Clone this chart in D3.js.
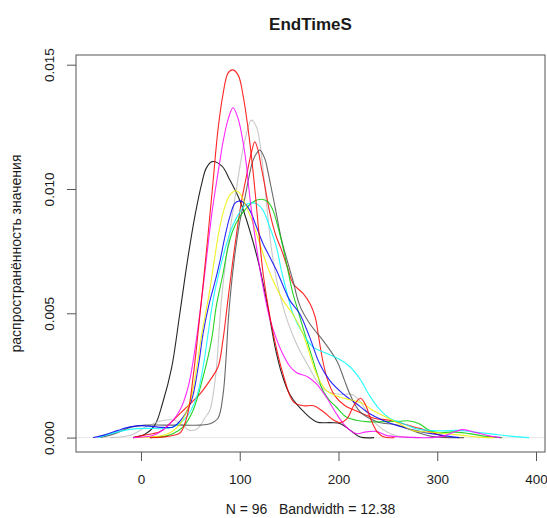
<!DOCTYPE html>
<html>
<head>
<meta charset="utf-8">
<script src="https://cdn.jsdelivr.net/npm/d3@7"></script>
<style>
  body { margin: 0; background: #fff; }
  text { font-family: "Liberation Sans", Arial, Helvetica, sans-serif; fill: #1a1a1a; }
</style>
</head>
<body>
<div id="chart"></div>
<script>
// density estimates: [value, density]
const blackCurve = [[-8,0],[4,0.00013],[14,0.0005],[22,0.0014],[31,0.0028],[39,0.0049],[47,0.0071],[55,0.009],[62,0.0103],[66,0.01083],[72,0.0111],[82,0.01092],[90,0.01036],[100,0.00955],[110,0.00835],[120,0.00687],[129,0.00512],[136,0.0036],[143,0.00251],[151,0.00171],[165,0.00103],[178,0.00063],[192,0.0006],[202,0.00056],[212,0.00029],[222,0.00002],[236,0]]
const redTall = [[9,0],[24,0.00003],[34,0.0001],[40,0.0002],[47,0.0009],[53,0.0025],[58,0.0043],[63,0.0062],[68,0.0082],[73,0.0103],[78,0.0124],[83,0.0138],[88,0.01465],[92.6,0.01479],[98.3,0.01459],[103.3,0.01378],[108.4,0.01244],[112.8,0.01096],[116,0.0097],[119.5,0.0082],[124,0.0065],[134,0.00416],[144.1,0.00252],[154.3,0.00144],[164.5,0.00128],[174.7,0.00128],[185,0.00103],[195.2,0.0007],[201.9,0.0006],[208.7,0.00076],[215.6,0.0013],[222.3,0.00158],[227.5,0.0013],[232.5,0.00076],[239.3,0.00022],[246.2,0.00002],[256.4,0]]
const magentaCurve = [[-8,0],[12.4,0.00009],[26,0.00043],[39.4,0.0011],[47.8,0.00204],[54.5,0.00351],[61.3,0.00553],[65.2,0.00682],[68.7,0.00802],[72.2,0.00915],[75.8,0.0101],[79.8,0.0111],[83.1,0.0119],[88.2,0.0128],[93.2,0.01327],[98.3,0.01284],[103.3,0.0119],[106.8,0.01096],[108.6,0.01024],[113.1,0.00875],[118.2,0.00734],[124.2,0.00593],[130.3,0.0048],[136.4,0.00405],[143.7,0.00335],[150.5,0.00288],[157.3,0.00262],[169,0.00244],[177.5,0.00217],[187.6,0.00163],[197.7,0.00097],[207.8,0.00043],[217.9,0.00016],[228,0.00023],[238.1,0.00025],[248.2,0.00009],[261.6,0.00003],[302,0.00003],[325.6,0.00032],[338.4,0.00021],[352.5,0.00007],[364.6,0]]
const lightGrayCurve = [[-31,0],[-11,0.00009],[4,0.00041],[19,0.00066],[34,0.0007],[42,0.0005],[49.5,0.00029],[57.6,0.00037],[64.6,0.00078],[69.7,0.0011],[73.7,0.0019],[76.5,0.00284],[78.8,0.00412],[81.5,0.00553],[85.9,0.00711],[90.9,0.00855],[96,0.00985],[101,0.0111],[105.1,0.01195],[111.8,0.01277],[116.9,0.0125],[120.2,0.0119],[124.2,0.01056],[128.3,0.00895],[132.3,0.00754],[138.4,0.00613],[145.5,0.00504],[152.5,0.00424],[160.6,0.00351],[170.7,0.00279],[178.8,0.00223],[186.9,0.0019],[201,0.00174],[213.1,0.00174],[221.2,0.0015],[229.3,0.00098],[239.4,0.0005],[251.5,0.00017],[266.7,0.00001],[282,0]]
const redSecond = [[-8,0],[2,0.00009],[19,0.00023],[29,0.00056],[43,0.0011],[60,0.00177],[70,0.00231],[78,0.00284],[83,0.00392],[88,0.00553],[93,0.00711],[98,0.00855],[102,0.00955],[106,0.01036],[112,0.0115],[115.2,0.0119],[118.5,0.01157],[122,0.01083],[125.3,0.01016],[130.3,0.00907],[136.4,0.00815],[142.4,0.00754],[148.5,0.00682],[154.3,0.00618],[164.5,0.00578],[171.3,0.00537],[176.5,0.00483],[180,0.00402],[184,0.00311],[189,0.00231],[196,0.0017],[206,0.0013],[221,0.00102],[236,0.00078],[251.5,0.0007],[267,0.00054],[282,0.00037],[297,0.00017],[310,0]]
const darkGrayCurve = [[-41,0],[-26,0.00017],[-11,0.00041],[4,0.0005],[24,0.0005],[44,0.0005],[60,0.0005],[70,0.00056],[78,0.00078],[83,0.0017],[86,0.00311],[88.4,0.00472],[91,0.00593],[95,0.00734],[100,0.00867],[105,0.0096],[109.4,0.0105],[113,0.0111],[116.5,0.0114],[120.2,0.01157],[125.3,0.01123],[128.6,0.01069],[131.3,0.01016],[136.4,0.00915],[142.4,0.00794],[148.5,0.00706],[153.8,0.00633],[160.6,0.00533],[171.3,0.00456],[184.8,0.00388],[198.5,0.00307],[206,0.00231],[212,0.00171],[222,0.00103],[239.4,0.00063],[259.6,0.0005],[280,0.00021],[294,0.00005],[327,0]]
const greenCurve = [[9,0],[26,0.00007],[32.6,0.00016],[42.7,0.00043],[52.8,0.0011],[62.9,0.00244],[71.4,0.00392],[76.3,0.0053],[83.1,0.0066],[88.2,0.00767],[93.2,0.00835],[100,0.00888],[105.1,0.00915],[113.4,0.00948],[121.9,0.00959],[128.6,0.00948],[133.6,0.00915],[138.7,0.00848],[143.7,0.00767],[148.8,0.00673],[153.8,0.0058],[158.9,0.00512],[165.7,0.0042],[172.7,0.00331],[178.8,0.00251],[184.1,0.0019],[190.9,0.0015],[197.7,0.00123],[207.8,0.00083],[217.9,0.0007],[231.3,0.00063],[246.5,0.00064],[261.6,0.00066],[271.7,0.00067],[281.8,0.00056],[291.9,0.00029],[302,0.00019],[315.5,0.00023],[332.3,0.00016],[349.2,0.00005],[365.7,0]]
const yellowCurve = [[-6,0],[26,0.00013],[39.4,0.00054],[49.5,0.00142],[56.3,0.00279],[61.3,0.00412],[66.4,0.00521],[69.7,0.00593],[74.7,0.00726],[79.8,0.00847],[84.8,0.00927],[89.9,0.00975],[95.7,0.00993],[100,0.00983],[106.8,0.00928],[113.4,0.00862],[120.2,0.00781],[127,0.007],[133.6,0.00633],[143.7,0.00553],[153.8,0.00496],[163.9,0.00419],[170.7,0.00338],[177.5,0.00258],[187.6,0.0019],[201,0.00163],[214.4,0.0015],[224.5,0.00137],[234.6,0.0011],[248.2,0.00082],[261.6,0.00056],[275.1,0.00029],[302,0.00019],[325.6,0.00009],[342.4,0.00002],[357.6,0]]
const blueCurve = [[-48.5,0],[-36.4,0.00011],[-23.2,0.00029],[-11.1,0.00043],[-1,0.00048],[11.1,0.00045],[22.2,0.00041],[32.6,0.00043],[42.7,0.00082],[51.2,0.0015],[57.9,0.00283],[62.9,0.00419],[68.7,0.00533],[74.7,0.00623],[79.8,0.00707],[84.8,0.00804],[89.9,0.00888],[95,0.00942],[99.3,0.00952],[103.3,0.00948],[110.1,0.00915],[116.9,0.00848],[123.5,0.00781],[130.3,0.00727],[137.1,0.00674],[143.7,0.00613],[150.5,0.00553],[160.6,0.00499],[170.7,0.00405],[180.8,0.00298],[190.9,0.00231],[204.3,0.00177],[217.9,0.00137],[231.3,0.00097],[244.7,0.0007],[258.3,0.0005],[281.8,0.00025],[302,0.00011],[322.2,0]]
const cyanCurve = [[-43.4,0],[-31.3,0.00015],[-19.2,0.00027],[-4.3,0.00036],[9.1,0.00037],[22.2,0.00036],[32.6,0.00043],[46.2,0.00083],[56.3,0.00163],[62.9,0.00284],[68,0.00419],[73,0.00553],[77.8,0.00643],[82.8,0.00724],[87.9,0.00796],[93.2,0.00855],[100,0.00907],[105.1,0.00933],[110.1,0.00943],[116.9,0.00941],[123.5,0.00915],[130.3,0.00848],[137.1,0.00767],[142.1,0.00674],[147.2,0.00593],[153.8,0.00499],[163.9,0.00419],[174,0.00365],[187.6,0.00339],[201,0.00315],[211.1,0.00287],[221.2,0.00239],[231.3,0.0017],[241.4,0.00114],[251.5,0.00078],[264.6,0.00058],[279.8,0.00035],[302,0.00027],[320.2,0.00029],[335.7,0.00023],[352.5,0.00016],[376.1,0.00005],[392.9,0]]

const xTicks = [0, 100, 200, 300, 400]
const yTicks = [0, 0.005, 0.010, 0.015]
const yTickLabels = ["0.000", "0.005", "0.010", "0.015"]

const curves = [
	{data: blackCurve, color: "#000000"},
	{data: lightGrayCurve, color: "#bebebe"},
	{data: redSecond, color: "#ff0000"},
	{data: darkGrayCurve, color: "#4d4d4d"},
	{data: greenCurve, color: "#00cd00"},
	{data: cyanCurve, color: "#00ffff"},
	{data: blueCurve, color: "#0000ff"},
	{data: yellowCurve, color: "#f0f000"},
	{data: magentaCurve, color: "#ff00ff"},
	{data: redTall, color: "#ff0000"}
]

var width = 547
var height = 518
var plotLeft = 76, plotRight = 545, plotTop = 55, plotBottom = 452

var svg = d3.select("#chart").append("svg")
	.attr("width", width)
	.attr("height", height)

var x = d3.scaleLinear()
	.domain([-65.8, 409.1])
	.range([plotLeft, plotRight])

var y = d3.scaleLinear()
	.domain([-0.00058, 0.01539])
	.range([plotBottom, plotTop])

// zero line
svg.append("line")
	.attr("x1", plotLeft).attr("x2", plotRight)
	.attr("y1", y(0)).attr("y2", y(0))
	.attr("stroke", "#e6e6e6")
	.attr("stroke-width", 1)

var line = d3.line()
	.x(d => x(d[0]))
	.y(d => y(Math.max(0, d[1])))
	.curve(d3.curveCatmullRom.alpha(0.5))

svg.append("g")
	.selectAll("path")
	.data(curves)
	.enter().append("path")
		.attr("d", d => line(d.data))
		.attr("fill", "none")
		.attr("stroke", d => d.color)
		.attr("stroke-width", 1.1)
		.attr("stroke-opacity", 0.85)

// box
svg.append("rect")
	.attr("x", plotLeft).attr("y", plotTop)
	.attr("width", plotRight - plotLeft).attr("height", plotBottom - plotTop)
	.attr("fill", "none")
	.attr("stroke", "#555")
	.attr("stroke-width", 1)

var xAxis = svg.append("g")
	.attr("transform", `translate(0,${plotBottom})`)
	.call(d3.axisBottom(x).tickValues(xTicks).tickSize(9).tickSizeOuter(0))

xAxis.select(".domain").remove()
xAxis.selectAll("line").attr("stroke", "#555")
xAxis.selectAll("text")
	.attr("y", 27)
	.attr("dy", "0.35em")
	.attr("font-size", 13.5)
	.attr("fill", "#1a1a1a")

var yAxis = svg.append("g")
	.attr("transform", `translate(${plotLeft},0)`)
	.call(d3.axisLeft(y).tickValues(yTicks).tickFormat((d, i) => yTickLabels[i]).tickSize(9).tickSizeOuter(0))

yAxis.select(".domain").remove()
yAxis.selectAll("line").attr("stroke", "#555")
yAxis.selectAll("text")
	.attr("x", null)
	.attr("dy", "0.35em")
	.attr("text-anchor", "middle")
	.attr("transform", "translate(-27,0) rotate(-90)")
	.attr("font-size", 13.5)
	.attr("fill", "#1a1a1a")

svg.append("text")
	.attr("x", (plotLeft + plotRight) / 2)
	.attr("y", 24)
	.attr("dy", "0.35em")
	.attr("text-anchor", "middle")
	.attr("font-size", 17)
	.attr("font-weight", "bold")
	.text("EndTimeS")

svg.append("text")
	.attr("x", (plotLeft + plotRight) / 2)
	.attr("y", 509)
	.attr("dy", "0.35em")
	.attr("text-anchor", "middle")
	.attr("font-size", 14)
	.style("white-space", "pre")
	.text("N = 96   Bandwidth = 12.38")

svg.append("text")
	.attr("transform", `translate(16,${(plotTop + plotBottom) / 2}) rotate(-90)`)
	.attr("dy", "0.35em")
	.attr("text-anchor", "middle")
	.attr("font-size", 14)
	.text("распространённость значения")
</script>
</body>
</html>
